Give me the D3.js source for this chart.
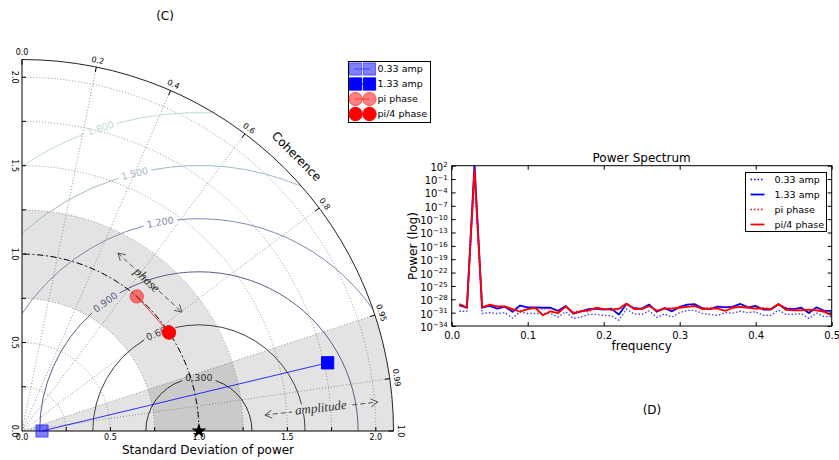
<!DOCTYPE html>
<html>
<head>
<meta charset="utf-8">
<script src="https://cdn.jsdelivr.net/npm/d3@7"></script>
<style>
body { margin: 0; background: #fff; }
text { font-family: "DejaVu Sans", sans-serif; }
</style>
</head>
<body>
<svg id="chart" width="839" height="460"></svg>
<script>
// ---- data: Taylor diagram (C)
var samples = ['0.33 amp', '1.33 amp', 'pi phase', 'pi/4 phase'];
var sampleStd = [0.113, 1.77, 1.0, 1.0];
var sampleCorr = [1.0, 0.976, 0.649, 0.831];
var refStd = 1.0;
var rmsLevels = [0.3, 0.6, 0.9, 1.2, 1.5, 1.8];
var corrTicks = [0.0, 0.2, 0.4, 0.6, 0.8, 0.95, 0.99, 1.0];
var stdTicks = [0.25, 0.5, 0.75, 1.0, 1.25, 1.5, 1.75, 2.0];
var phaseBand = [0.75, 1.25];
var ampWedgeCorr = 0.95;
var stdMax = 2.1;

// ---- data: power spectrum (D), log10 of power
var freq = [0.01,0.02,0.03,0.04,0.05,0.06,0.07,0.08,0.09,0.10,
  0.11,0.12,0.13,0.14,0.15,0.16,0.17,0.18,0.19,0.20,
  0.21,0.22,0.23,0.24,0.25,0.26,0.27,0.28,0.29,0.30,
  0.31,0.32,0.33,0.34,0.35,0.36,0.37,0.38,0.39,0.40,
  0.41,0.42,0.43,0.44,0.45,0.46,0.47,0.48,0.49,0.50];
var amp033 = [-30.7,-30.7,0.0,-31.2,-31.0,-31.2,-31.0,-32.2,-30.8,-31.2,
  -31.2,-31.2,-31.2,-32.0,-30.8,-32.3,-32.0,-31.4,-31.4,-31.6,
  -31.7,-32.7,-30.2,-31.3,-31.4,-30.6,-32.1,-31.3,-32.0,-31.0,
  -30.5,-30.5,-31.2,-31.4,-31.6,-31.0,-31.1,-30.7,-31.0,-30.8,
  -31.6,-31.6,-30.4,-31.4,-31.4,-31.2,-32.3,-31.1,-31.9,-31.9];
var amp133 = [-29.35,-29.9,2.4,-29.9,-29.5,-30.1,-29.65,-30.8,-29.4,-29.8,
  -29.8,-29.9,-29.9,-30.6,-29.5,-31.2,-30.7,-30.2,-30.1,-30.3,
  -30.1,-31.4,-29.05,-30.0,-30.1,-29.2,-30.8,-30.0,-30.7,-29.7,
  -29.2,-29.1,-30.0,-30.2,-29.65,-29.8,-29.65,-29.05,-29.8,-29.5,
  -30.3,-30.3,-29.1,-30.1,-30.2,-29.9,-31.1,-29.8,-30.6,-30.6];
var piPhase = [-29.2,-29.9,1.0,-29.7,-29.35,-29.65,-29.65,-30.5,-30.5,-30.1,
  -30.1,-30.2,-30.1,-30.7,-29.7,-30.8,-30.6,-30.8,-30.1,-30.1,
  -30.5,-30.3,-29.2,-30.1,-30.1,-29.6,-30.6,-29.9,-30.1,-29.6,
  -29.7,-29.7,-29.9,-29.9,-29.6,-29.6,-29.65,-29.7,-29.7,-29.8,
  -29.9,-30.1,-29.2,-29.9,-30.1,-30.1,-30.5,-30.1,-30.5,-31.2];
var pi4Phase = [-29.05,-29.8,1.0,-29.8,-29.2,-29.6,-29.6,-30.2,-30.8,-30.2,
  -29.9,-31.6,-30.7,-31.1,-29.65,-31.1,-30.7,-30.5,-29.9,-30.2,
  -30.3,-30.1,-28.97,-30.2,-30.2,-29.5,-30.6,-30.1,-30.1,-29.9,
  -29.7,-29.5,-30.2,-30.1,-30.1,-30.6,-29.9,-29.7,-29.9,-30.1,
  -30.1,-30.2,-29.05,-30.4,-30.5,-30.5,-30.3,-30.5,-30.8,-31.6];
var powerTickExp = [2,-1,-4,-7,-10,-13,-16,-19,-22,-25,-28,-31,-34];
var freqTicks = [0.0, 0.1, 0.2, 0.3, 0.4, 0.5];

var svg = d3.select('#chart');
var defs = svg.append('defs');

// ================= Taylor diagram =================
var tx = d3.scaleLinear().domain([0, stdMax]).range([22, 393.5]);
var ty = d3.scaleLinear().domain([0, stdMax]).range([431, 59.5]);
var rad = d3.scaleLinear().domain([0, stdMax]).range([0, 371.5]);
var ox = tx(0), oy = ty(0);
var origin = 'translate(' + ox + ',' + oy + ')';

function pt(std, ang) { return [tx(std * Math.cos(ang)), ty(std * Math.sin(ang))]; }
function arcPath(cx, cy, r, a0, a1) {
  var p = d3.path();
  p.moveTo(cx + r * Math.cos(a0), cy - r * Math.sin(a0));
  p.arc(cx, cy, r, -a0, -a1, a1 > a0);
  return p.toString();
}

defs.append('clipPath').attr('id', 'quad').append('path')
  .attr('transform', origin)
  .attr('d', d3.arc()({innerRadius: 0, outerRadius: rad(stdMax), startAngle: 0, endAngle: Math.PI / 2}));

var tay = svg.append('g');

// shaded bands
tay.append('path').attr('transform', origin)
  .attr('d', d3.arc()({innerRadius: rad(phaseBand[0]), outerRadius: rad(phaseBand[1]), startAngle: 0, endAngle: Math.PI / 2}))
  .attr('fill', '#000').attr('fill-opacity', 0.11);
tay.append('path').attr('transform', origin)
  .attr('d', d3.arc()({innerRadius: 0, outerRadius: rad(stdMax), startAngle: Math.PI / 2 - Math.acos(ampWedgeCorr), endAngle: Math.PI / 2}))
  .attr('fill', '#000').attr('fill-opacity', 0.11);

// dotted grid
var grid = tay.append('g').attr('fill', 'none').attr('stroke', '#777')
  .attr('stroke-width', 0.8).attr('stroke-dasharray', '1,2');
grid.selectAll('path.arc').data(stdTicks).enter().append('path')
  .attr('d', function(d) { return arcPath(ox, oy, rad(d), 0, Math.PI / 2); });
grid.selectAll('line').data(corrTicks.filter(function(c) { return c > 0 && c < 1; })).enter().append('line')
  .attr('x1', ox).attr('y1', oy)
  .attr('x2', function(c) { return pt(stdMax, Math.acos(c))[0]; })
  .attr('y2', function(c) { return pt(stdMax, Math.acos(c))[1]; });

// RMS contours around the reference
var rmsColors = ['#2e2e2e', '#3f3f4a', '#5a5f85', '#7d8bb0', '#9fbac4', '#bfd9d3'];
var rmsLabelAng = [90, 112, 126, 100.5, 104, 108];
var cx0 = tx(refStd), cy0 = ty(0);
var cont = tay.append('g').attr('clip-path', 'url(#quad)');
rmsLevels.forEach(function(R, i) {
  var rr = rad(R);
  var aMin = (refStd + R > stdMax) ? Math.acos((stdMax * stdMax - refStd * refStd - R * R) / (2 * R * refStd)) : 0;
  var aMax = (R > refStd) ? Math.acos(-refStd / R) : Math.PI;
  var aL = rmsLabelAng[i] * Math.PI / 180, gap = 17 / rr;
  cont.append('path').attr('d', arcPath(cx0, cy0, rr, aMin, aL - gap) + arcPath(cx0, cy0, rr, aL + gap, aMax))
    .attr('fill', 'none').attr('stroke', rmsColors[i]).attr('stroke-width', 1);
  var lp = [cx0 + rr * Math.cos(aL), cy0 - rr * Math.sin(aL)];
  tay.append('text').attr('transform', 'translate(' + lp[0] + ',' + lp[1] + ') rotate(' + (-(rmsLabelAng[i] - 90)) + ')')
    .attr('text-anchor', 'middle').attr('dy', '0.35em').attr('font-size', '9.5px')
    .attr('fill', rmsColors[i]).text(d3.format('.3f')(R));
});

// reference std arc
tay.append('path').attr('d', arcPath(ox, oy, rad(refStd), 0, Math.PI / 2))
  .attr('fill', 'none').attr('stroke', '#000').attr('stroke-width', 1).attr('stroke-dasharray', '6,3,1.5,3');

// frame
tay.append('path').attr('d', arcPath(ox, oy, rad(stdMax), 0, Math.PI / 2))
  .attr('fill', 'none').attr('stroke', '#222').attr('stroke-width', 1);
tay.append('line').attr('x1', ox).attr('y1', oy).attr('x2', tx(stdMax)).attr('y2', oy).attr('stroke', '#000');
tay.append('line').attr('x1', ox).attr('y1', oy).attr('x2', ox).attr('y2', ty(stdMax)).attr('stroke', '#000');

// std ticks and labels
var isMajor = function(d) { return Math.abs(d * 2 - Math.round(d * 2)) < 1e-6; };
var stdAll = [0].concat(stdTicks);
tay.selectAll('line.xt').data(stdTicks).enter().append('line')
  .attr('x1', function(d) { return tx(d); }).attr('x2', function(d) { return tx(d); })
  .attr('y1', oy).attr('y2', oy - 4).attr('stroke', '#000');
tay.selectAll('line.yt').data(stdTicks).enter().append('line')
  .attr('y1', function(d) { return ty(d); }).attr('y2', function(d) { return ty(d); })
  .attr('x1', ox).attr('x2', ox + 4).attr('stroke', '#000');
tay.selectAll('text.xl').data(stdAll.filter(isMajor)).enter().append('text')
  .attr('x', function(d) { return tx(d); }).attr('y', oy + 9)
  .attr('text-anchor', 'middle').attr('font-size', '8px').text(d3.format('.1f'));
tay.selectAll('text.yl').data(stdAll.filter(isMajor)).enter().append('text')
  .attr('transform', function(d) { return 'translate(' + (ox - 7) + ',' + ty(d) + ') rotate(90)'; })
  .attr('text-anchor', 'middle').attr('dy', '0.35em').attr('font-size', '8px').text(d3.format('.1f'));

// correlation ticks and labels
corrTicks.forEach(function(c) {
  var a = Math.acos(c);
  var p0 = pt(stdMax, a), r1 = rad(stdMax) - 5;
  tay.append('line').attr('x1', p0[0]).attr('y1', p0[1])
    .attr('x2', ox + r1 * Math.cos(a)).attr('y2', oy - r1 * Math.sin(a)).attr('stroke', '#000');
  var rl = rad(stdMax) + 7;
  tay.append('text')
    .attr('transform', 'translate(' + (ox + rl * Math.cos(a)) + ',' + (oy - rl * Math.sin(a)) + ') rotate(' + (90 - a * 180 / Math.PI) + ')')
    .attr('text-anchor', 'middle').attr('dy', '0.35em').attr('font-size', '8px').text(String(c === 0 ? '0.0' : c === 1 ? '1.0' : c));
});
var cohR = rad(stdMax) + 17;
tay.append('text')
  .attr('transform', 'translate(' + (ox + cohR * Math.cos(Math.PI / 4)) + ',' + (oy - cohR * Math.sin(Math.PI / 4)) + ') rotate(45)')
  .attr('text-anchor', 'middle').attr('dy', '0.35em').attr('font-size', '12px').text('Coherence');

// annotation arrows
function dashedArrow(g, a, b) {
  var p = [tx(a[0]), ty(a[1])], q = [tx(b[0]), ty(b[1])];
  var dx = q[0] - p[0], dy = q[1] - p[1], L = Math.hypot(dx, dy), ux = dx / L, uy = dy / L;
  g.append('line').attr('x1', p[0]).attr('y1', p[1]).attr('x2', q[0]).attr('y2', q[1])
    .attr('stroke', '#555').attr('stroke-dasharray', '5,3');
  [[p, -1], [q, 1]].forEach(function(e) {
    var P = e[0], s = e[1], bx = P[0] - s * 7 * ux, by = P[1] - s * 7 * uy;
    g.append('path').attr('d', 'M' + (bx - 4 * uy) + ',' + (by + 4 * ux) + 'L' + P[0] + ',' + P[1] + 'L' + (bx + 4 * uy) + ',' + (by - 4 * ux))
      .attr('fill', 'none').attr('stroke', '#555');
  });
}
dashedArrow(tay, [0.542, 1.006], [0.904, 0.672]);
dashedArrow(tay, [1.373, 0.090], [2.011, 0.164]);
tay.append('text').attr('transform', 'translate(' + tx(0.706) + ',' + ty(0.853) + ') rotate(43)')
  .attr('text-anchor', 'middle').attr('dy', '0.3em').attr('font-size', '13px')
  .style('font-family', '"Liberation Serif", serif').style('font-style', 'italic').attr('fill', '#333').text('phase');
tay.append('rect').attr('x', tx(1.689) - 29).attr('y', ty(0.13) - 6).attr('width', 58).attr('height', 10)
  .attr('fill', '#e3e3e3').attr('transform', 'rotate(-6.6,' + tx(1.689) + ',' + ty(0.13) + ')');
tay.append('text').attr('transform', 'translate(' + tx(1.689) + ',' + ty(0.13) + ') rotate(-6.6)')
  .attr('text-anchor', 'middle').attr('dy', '0.3em').attr('font-size', '13px')
  .style('font-family', '"Liberation Serif", serif').style('font-style', 'italic').attr('fill', '#333').text('amplitude');

// samples
var mColor = ['#0000ff', '#0000ff', '#ff0000', '#ff0000'];
var mAlpha = [0.5, 1, 0.5, 1];
var mShape = [d3.symbolSquare, d3.symbolSquare, d3.symbolCircle, d3.symbolCircle];
var mSize = [150, 150, 140, 140];
var spt = samples.map(function(s, i) { return pt(sampleStd[i], Math.acos(sampleCorr[i])); });
tay.append('line').attr('x1', spt[0][0]).attr('y1', spt[0][1]).attr('x2', spt[1][0]).attr('y2', spt[1][1])
  .attr('stroke', '#0000ff').attr('stroke-width', 0.8);
tay.append('line').attr('x1', spt[2][0]).attr('y1', spt[2][1]).attr('x2', spt[3][0]).attr('y2', spt[3][1])
  .attr('stroke', '#ff0000').attr('stroke-width', 0.8);
tay.selectAll('path.sample').data(samples).enter().append('path')
  .attr('transform', function(d, i) { return 'translate(' + spt[i][0] + ',' + spt[i][1] + ')'; })
  .attr('d', function(d, i) { return d3.symbol(mShape[i], mSize[i])(); })
  .attr('fill', function(d, i) { return mColor[i]; })
  .attr('fill-opacity', function(d, i) { return mAlpha[i]; })
  .attr('stroke', function(d, i) { return mColor[i]; })
  .attr('stroke-opacity', function(d, i) { return mAlpha[i]; });
tay.append('path').attr('transform', 'translate(' + tx(refStd) + ',' + ty(0) + ')')
  .attr('d', d3.symbol(d3.symbolStar, 70)()).attr('fill', '#000');

// legend
var leg = svg.append('g').attr('transform', 'translate(348.5,61.5)');
leg.append('rect').attr('width', 82).attr('height', 61).attr('fill', '#fff').attr('stroke', '#000');
samples.forEach(function(s, i) {
  var y = 7.5 + i * 15;
  leg.append('line').attr('x1', 6).attr('x2', 21).attr('y1', y).attr('y2', y).attr('stroke', mColor[i]).attr('stroke-opacity', mAlpha[i]);
  [7, 21].forEach(function(x) {
    leg.append('path').attr('transform', 'translate(' + x + ',' + y + ')')
      .attr('d', d3.symbol(mShape[i], mSize[i])())
      .attr('fill', mColor[i]).attr('fill-opacity', mAlpha[i]).attr('stroke', mColor[i]).attr('stroke-opacity', mAlpha[i]);
  });
  leg.append('text').attr('x', 29).attr('y', y).attr('dy', '0.35em').attr('font-size', '9.5px').text(s);
});

svg.append('text').attr('x', 165).attr('y', 20).attr('text-anchor', 'middle').attr('font-size', '12px').text('(C)');
svg.append('text').attr('x', 208).attr('y', 454).attr('text-anchor', 'middle').attr('font-size', '12px').text('Standard Deviation of power');

// ================= Power spectrum =================
var sx = d3.scaleLinear().domain([0, 0.5]).range([451.7, 831.7]);
var sy = d3.scaleLog().domain([1e-34, 1e2]).range([326, 165.7]);
var spec = svg.append('g');
defs.append('clipPath').attr('id', 'specclip').append('rect')
  .attr('x', sx(0)).attr('y', sy(1e2)).attr('width', sx(0.5) - sx(0)).attr('height', sy(1e-34) - sy(1e2));

var seriesNames = ['0.33 amp', '1.33 amp', 'pi phase', 'pi/4 phase'];
var seriesVals = [amp033, amp133, piPhase, pi4Phase];
var sColor = ['#0000ff', '#0000ff', '#ff0000', '#ff0000'];
var sDash = ['1.5,2', null, '1.5,2', null];
var sWidth = [1.4, 1.8, 1.4, 1.8];
var line = d3.line().x(function(d) { return sx(d[0]); }).y(function(d) { return sy(Math.pow(10, d[1])); });
var plot = spec.append('g').attr('clip-path', 'url(#specclip)');
seriesVals.forEach(function(v, i) {
  plot.append('path').attr('d', line(freq.map(function(f, j) { return [f, v[j]]; })))
    .attr('fill', 'none').attr('stroke', sColor[i]).attr('stroke-width', sWidth[i])
    .attr('stroke-opacity', sDash[i] ? 0.75 : 1)
    .attr('stroke-dasharray', sDash[i]).attr('stroke-linejoin', 'round');
});

var pTicks = powerTickExp.map(function(e) { return Math.pow(10, e); });
function styleAxis(g) {
  g.select('.domain').remove();
  g.selectAll('line').attr('stroke', '#000');
  g.attr('font-family', null).attr('font-size', null);
}
spec.append('g').attr('transform', 'translate(0,' + sy(1e-34) + ')')
  .call(d3.axisBottom(sx).tickValues(freqTicks).tickSize(-4).tickPadding(6).tickFormat(d3.format('.1f')))
  .call(styleAxis).selectAll('text').attr('font-size', '10px');
spec.append('g').attr('transform', 'translate(0,' + sy(1e2) + ')')
  .call(d3.axisTop(sx).tickValues(freqTicks).tickSize(-4).tickFormat('')).call(styleAxis);
var yAx = spec.append('g').attr('transform', 'translate(' + sx(0) + ',0)')
  .call(d3.axisLeft(sy).tickValues(pTicks).tickSize(-4).tickPadding(4).tickFormat(function() { return ''; }))
  .call(styleAxis);
yAx.selectAll('.tick text').attr('font-size', '10px').attr('dy', '0.45em').each(function(d) {
  var t = d3.select(this), e = Math.round(Math.log10(d));
  t.append('tspan').text('10');
  t.append('tspan').attr('dy', '-0.6em').attr('font-size', '7px').text(String(e).replace('-', '\u2212'));
});
spec.append('g').attr('transform', 'translate(' + sx(0.5) + ',0)')
  .call(d3.axisRight(sy).tickValues(pTicks).tickSize(-4).tickFormat('')).call(styleAxis);
spec.append('rect').attr('x', sx(0)).attr('y', sy(1e2)).attr('width', sx(0.5) - sx(0)).attr('height', sy(1e-34) - sy(1e2))
  .attr('fill', 'none').attr('stroke', '#000');

spec.append('text').attr('x', (sx(0) + sx(0.5)) / 2).attr('y', 162).attr('text-anchor', 'middle').attr('font-size', '12px').text('Power Spectrum');
spec.append('text').attr('x', (sx(0) + sx(0.5)) / 2).attr('y', 350).attr('text-anchor', 'middle').attr('font-size', '12px').text('frequency');
spec.append('text').attr('transform', 'translate(417,246) rotate(-90)').attr('text-anchor', 'middle').attr('font-size', '12px').text('Power (log)');
svg.append('text').attr('x', 652).attr('y', 414).attr('text-anchor', 'middle').attr('font-size', '12px').text('(D)');

var sleg = spec.append('g').attr('transform', 'translate(745.5,172.5)');
sleg.append('rect').attr('width', 81).attr('height', 59).attr('fill', '#fff').attr('stroke', '#000');
seriesNames.forEach(function(s, i) {
  var y = 7 + i * 15;
  sleg.append('line').attr('x1', 5).attr('x2', 19).attr('y1', y).attr('y2', y)
    .attr('stroke', sColor[i]).attr('stroke-width', sWidth[i]).attr('stroke-dasharray', sDash[i]);
  sleg.append('text').attr('x', 29).attr('y', y).attr('dy', '0.35em').attr('font-size', '9.5px').text(s);
});
</script>
</body>
</html>
